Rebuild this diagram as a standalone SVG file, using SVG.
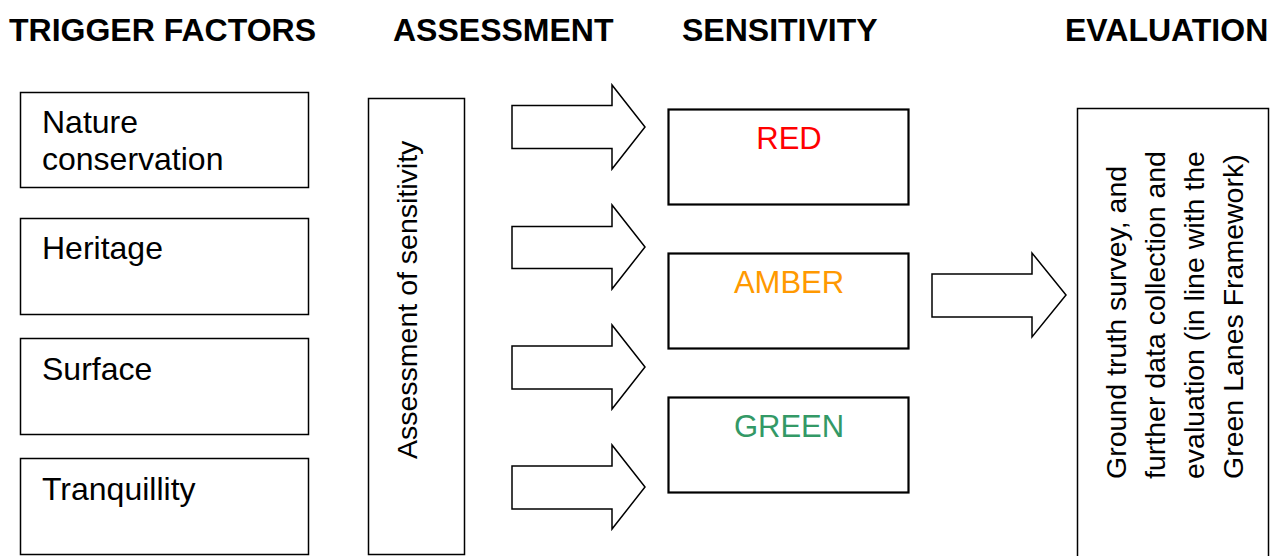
<svg xmlns="http://www.w3.org/2000/svg" width="1281" height="556" viewBox="0 0 1281 556">
<style>
.hdr{font-family:"Liberation Sans",Arial,sans-serif;font-weight:bold;font-size:32px;fill:#000}
.t{font-family:"Liberation Sans",Arial,sans-serif;font-size:32px;fill:#000}
.t28{font-family:"Liberation Sans",Arial,sans-serif;font-size:28.5px;fill:#000}
.box{fill:#fff;stroke:#000;stroke-width:1.5}
.sbox{fill:#fff;stroke:#000;stroke-width:2.2}
.arrow{fill:#fff;stroke:#000;stroke-width:1.5;stroke-linejoin:miter}
.lvl{font-family:"Liberation Sans",Arial,sans-serif;font-size:31px;text-anchor:middle}
</style>
<rect width="1281" height="556" fill="#fff"/>
<g id="headers">
<text class="hdr" x="9" y="41">TRIGGER FACTORS</text>
<text class="hdr" x="393" y="41">ASSESSMENT</text>
<text class="hdr" x="682" y="41">SENSITIVITY</text>
<text class="hdr" x="1065" y="41">EVALUATION</text>
</g>
<g id="nature">
<rect class="box" x="20.5" y="92.5" width="288" height="95"/>
<text class="t" x="42" y="133">Nature</text>
<text class="t" x="42" y="170">conservation</text>
</g>
<g id="heritage">
<rect class="box" x="20.5" y="218.5" width="288" height="96"/>
<text class="t" x="42" y="259">Heritage</text>
</g>
<g id="surface">
<rect class="box" x="20.5" y="338.5" width="288" height="96"/>
<text class="t" x="42" y="380">Surface</text>
</g>
<g id="tranquillity">
<rect class="box" x="20.5" y="458.5" width="288" height="96"/>
<text class="t" x="42" y="500">Tranquillity</text>
</g>
<g id="assessment">
<rect class="box" x="368.5" y="98.5" width="96" height="456"/>
<text class="t28" transform="translate(417,459) rotate(-90)">Assessment of sensitivity</text>
</g>
<g id="red">
<rect class="sbox" x="668.5" y="109.5" width="240" height="95"/>
<text class="lvl" x="789" y="149" fill="#FF0000">RED</text>
</g>
<g id="amber">
<rect class="sbox" x="668.5" y="253.5" width="240" height="95"/>
<text class="lvl" x="789" y="293" fill="#FF9900">AMBER</text>
</g>
<g id="green">
<rect class="sbox" x="668.5" y="397.5" width="240" height="95"/>
<text class="lvl" x="789" y="437" fill="#339966">GREEN</text>
</g>
<g id="evaluation">
<rect class="box" x="1077.5" y="108.5" width="191" height="460"/>
<text class="t28" transform="translate(1126,479) rotate(-90)">Ground truth survey,  and</text>
<text class="t28" transform="translate(1165,479) rotate(-90)">further data collection and</text>
<text class="t28" transform="translate(1204,479) rotate(-90)">evaluation (in line with the</text>
<text class="t28" transform="translate(1243,479) rotate(-90)">Green Lanes Framework)</text>
</g>
<g id="connectors">
<path class="arrow" d="M512 105.5H612V85L645 127L612 169V148.5H512Z"/>
<path class="arrow" d="M512 226.5H612V205L645 247L612 289V268.5H512Z"/>
<path class="arrow" d="M512 346H612V325L645 367L612 409V389H512Z"/>
<path class="arrow" d="M512 466H612V445L645 487L612 529V509H512Z"/>
<path class="arrow" d="M932 274H1032V253L1066 295L1032 337V317H932Z"/>
</g>
</svg>
